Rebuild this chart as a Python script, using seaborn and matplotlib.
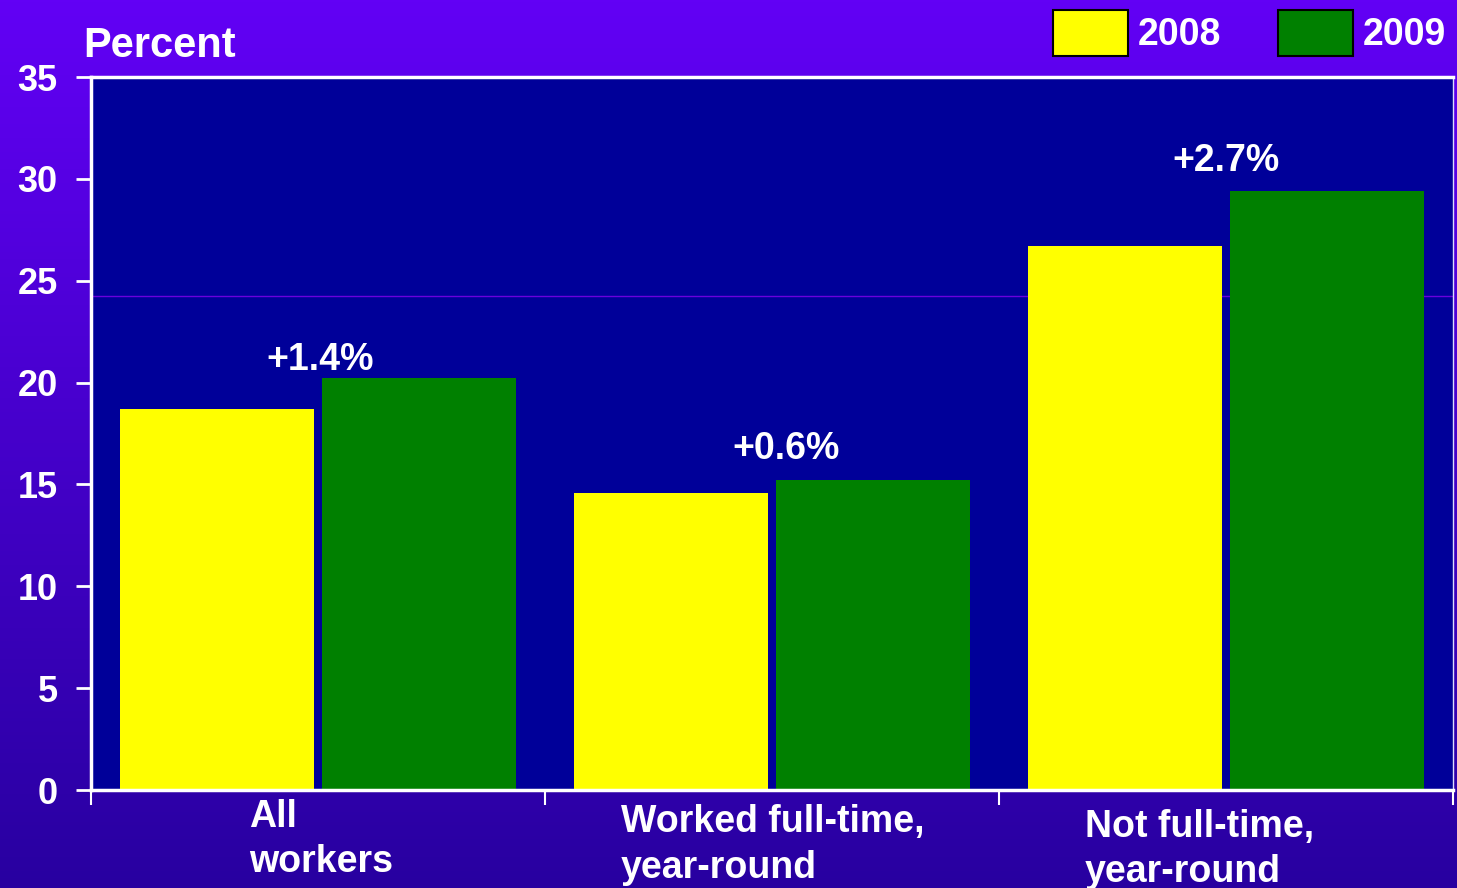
import numpy as np
import pandas as pd
import matplotlib
matplotlib.use("Agg")
import matplotlib.pyplot as plt
import matplotlib.transforms as mtransforms
import seaborn as sns

# chart data
categories = ["All workers", "Worked full-time, year-round", "Not full-time, year-round"]
category_labels = ["All\nworkers", "Worked full-time,\nyear-round", "Not full-time,\nyear-round"]
years = ["2008", "2009"]
values_2008 = [18.7, 14.6, 26.7]
values_2009 = [20.2, 15.2, 29.4]
change_labels = ["+1.4%", "+0.6%", "+2.7%"]
y_ticks = [0, 5, 10, 15, 20, 25, 30, 35]

df = pd.DataFrame({
    "category": categories * 2,
    "year": [years[0]] * 3 + [years[1]] * 3,
    "value": values_2008 + values_2009,
})

sns.set_theme(style="white")
plt.rcParams["font.family"] = ["Liberation Sans", "DejaVu Sans"]
plt.rcParams["font.weight"] = "bold"

fig = plt.figure(figsize=(14.57, 8.88), dpi=100)

# purple gradient background
bg = fig.add_axes([0, 0, 1, 1], zorder=-10)
top = np.array([98, 0, 245]) / 255
bottom = np.array([40, 0, 160]) / 255
t = np.linspace(0, 1, 256)[:, None]
grad = (top * (1 - t) + bottom * t)[:, None, :]
bg.imshow(grad, aspect="auto", extent=[0, 1, 0, 1])
bg.axis("off")

ax = fig.add_axes([91 / 1457, 1 - 790 / 888, (1453 - 91) / 1457, (790 - 77) / 888])
ax.set_facecolor("#000099")

ax.axhline(24.25, color="#6a00dd", lw=1, zorder=0)

sns.barplot(data=df, x="category", y="value", hue="year", order=categories,
            palette={"2008": "#ffff00", "2009": "#008000"},
            width=0.89, gap=0.04, saturation=1, linewidth=0, ax=ax, zorder=2)

ax.set_xlim(-0.5, 2.5)
ax.set_ylim(0, 35)
ax.set_yticks(y_ticks)
ax.set_yticklabels([str(v) for v in y_ticks], color="white", fontsize=26, fontweight="bold")
ax.set_xticks([-0.5, 0.5, 1.5, 2.5])
ax.set_xticklabels([])
ax.set_xlabel("")
ax.set_ylabel("")
ax.tick_params(axis="y", left=True, length=11, width=2, color="white", pad=13)
ax.tick_params(axis="x", bottom=True, length=11, width=1.5, color="white")
for side in ["left", "bottom", "top"]:
    ax.spines[side].set_color("white")
    ax.spines[side].set_linewidth(2.5)
ax.spines["right"].set_color("#ddddff")
ax.spines["right"].set_linewidth(1)

# change annotations above each pair
note_dx = [0.005, 0.03, 0.0]
note_dy = [0.0, 0.65, 0.6]
for i, lab in enumerate(change_labels):
    ax.text(i + note_dx[i], max(values_2008[i], values_2009[i]) + note_dy[i], lab,
            ha="center", va="bottom", color="white", fontsize=27, fontweight="bold")

# category labels under the axis
trans = mtransforms.blended_transform_factory(ax.transData, ax.transAxes)
label_x = [-0.152, 0.667, 1.689]
label_y = [-0.012, -0.02, -0.026]
for lab, lx, ly in zip(category_labels, label_x, label_y):
    ax.text(lx, ly, lab, transform=trans, ha="left", va="top", color="white",
            fontsize=27, fontweight="bold", linespacing=1.35)

fig.text(83 / 1457, 1 - 57 / 888, "Percent", color="white", fontsize=30,
         fontweight="bold", ha="left", va="baseline")

handles, labels = ax.get_legend_handles_labels()
ax.get_legend().remove()
leg = fig.legend(handles, labels, loc="center left", bbox_to_anchor=(1053 / 1457, 1 - 33 / 888),
                 bbox_transform=fig.transFigure, ncol=2, frameon=False, fontsize=27,
                 handlelength=2.0, handleheight=1.55, handletextpad=0.27,
                 columnspacing=1.5, borderpad=0, borderaxespad=0)
for h in leg.legend_handles:
    h.set_edgecolor("black")
    h.set_linewidth(1.5)
for txt in leg.get_texts():
    txt.set_color("white")
    txt.set_fontweight("bold")

fig.savefig("out.png", dpi=100)
